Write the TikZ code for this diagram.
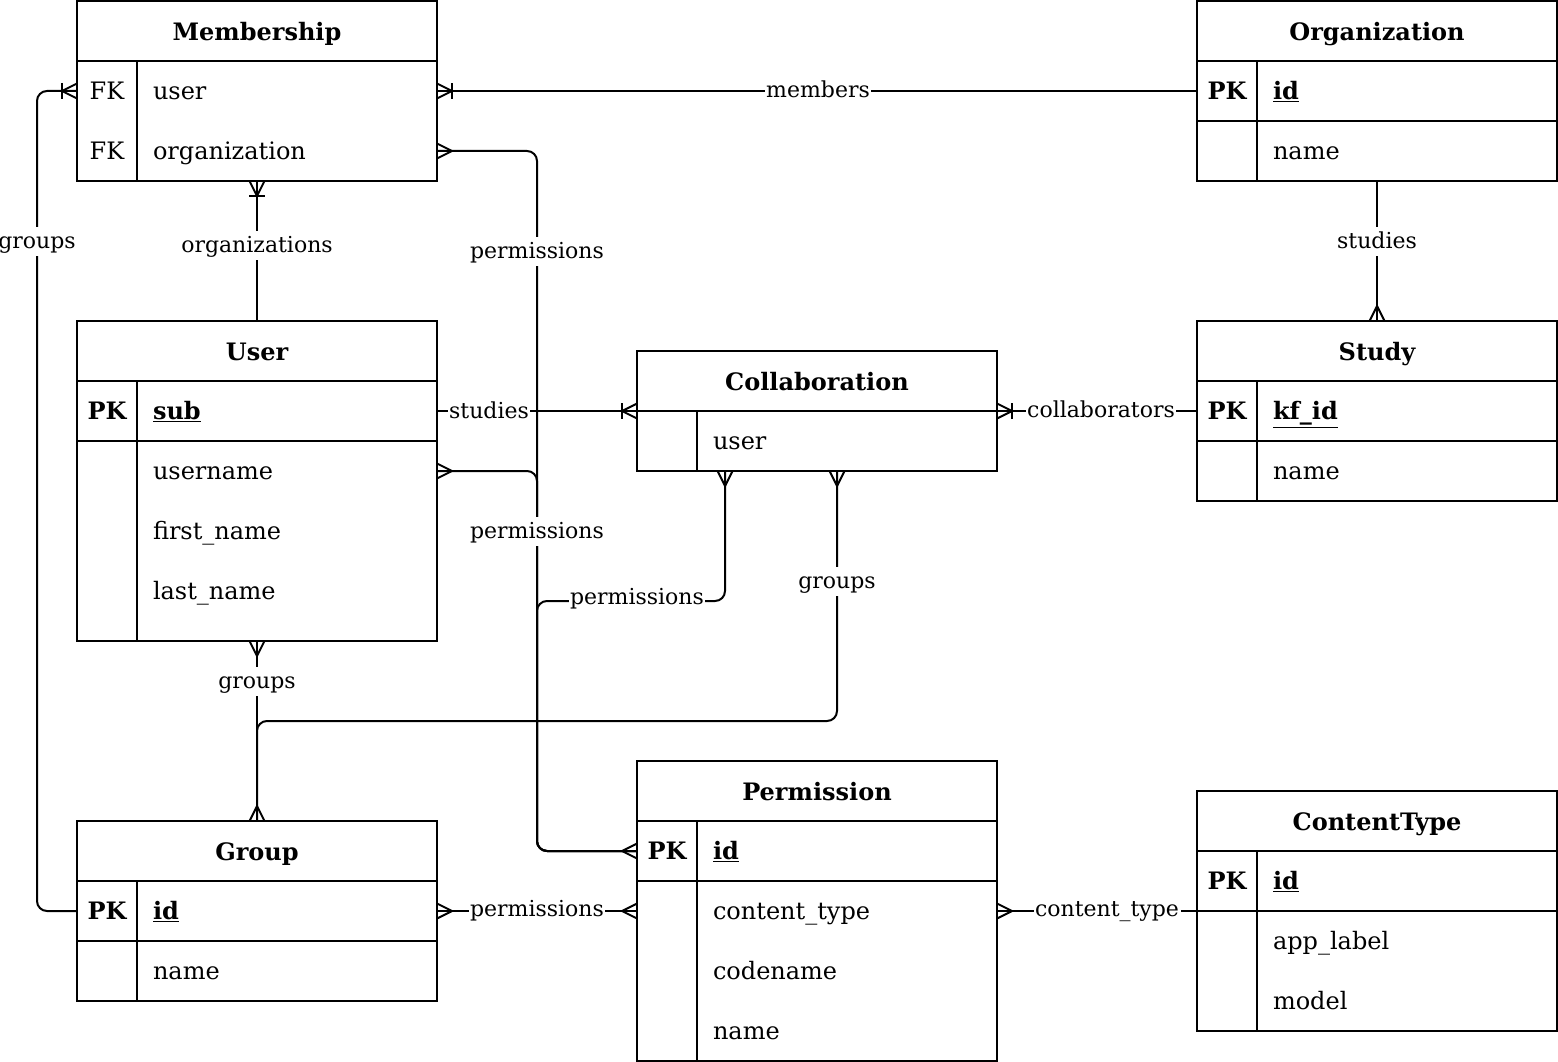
\documentclass[tikz,border=0pt]{standalone}
\usepackage{fontspec}
\setmainfont{DejaVu Serif}
\usetikzlibrary{calc}
\newcommand\erMany[2]{\draw[mk] ($(#1)+(#2+90:7.5)$) -- ($(#1)+(#2:15)$) -- ($(#1)+(#2-90:7.5)$);}
\newcommand\erOneMany[2]{\erMany{#1}{#2}\draw[mk] ($(#1)+(#2:15)+(#2+90:8)$) -- ($(#1)+(#2:15)+(#2-90:8)$);}
\begin{document}
\begin{tikzpicture}[x=1pt,y=-1pt, line width=2pt,
  tbl/.style={draw, fill=white, minimum width=360pt, inner sep=0pt, outer sep=0pt},
  ttl/.style={minimum width=360pt, minimum height=60pt, inner sep=0pt, outer sep=0pt},
  ttltext/.style={inner sep=0pt, text height=19.5pt, text depth=0pt, font=\fontsize{24pt}{28pt}\selectfont\bfseries},
  row/.style={minimum width=360pt, minimum height=60pt, inner sep=0pt, outer sep=0pt},
  keyt/.style={inner sep=0pt, text height=17.5pt, text depth=0pt, font=\fontsize{24pt}{28pt}\selectfont},
  fld/.style={inner sep=0pt, text height=17.5pt, text depth=0pt, anchor=west, font=\fontsize{24pt}{28pt}\selectfont},
  lbl/.style={fill=white, inner xsep=1.5pt, inner ysep=2pt, text height=20pt, text depth=5pt, font=\fontsize{22pt}{26pt}\selectfont},
  edge/.style={rounded corners=10pt},
  mk/.style={line join=miter}
]
\useasboundingbox (0,0) rectangle (1558,1062);

% ---------- Membership ----------
\node[tbl, minimum height=180pt] (mem) at (257,91) {};
\node[ttl] (memt) at (257,31) {};
\node[ttltext] (memtt) at (memt) {Membership};
\node[row] (memuser) at (257,91) {};
\node[row] (memorg) at (257,151) {};
\draw (memt.south west) -- (memt.south east);
\draw ([xshift=60pt]memuser.north west) -- ([xshift=60pt]mem.south west);
\node[keyt] (memk1) at ([xshift=30pt]memuser.west) {FK};
\node[fld] (memf1) at ([xshift=75pt]memuser.west) {user};
\node[keyt] (memk2) at ([xshift=30pt]memorg.west) {FK};
\node[fld] (memf2) at ([xshift=75pt]memorg.west) {organization};

% ---------- Organization ----------
\node[tbl, minimum height=180pt] (org) at (1377,91) {};
\node[ttl] (orgt) at (1377,31) {};
\node[ttltext] (orgtt) at (orgt) {Organization};
\node[row] (orgid) at (1377,91) {};
\node[row] (orgname) at (1377,151) {};
\draw (orgt.south west) -- (orgt.south east);
\draw (orgid.south west) -- (orgid.south east);
\draw ([xshift=60pt]orgid.north west) -- ([xshift=60pt]org.south west);
\node[keyt] (orgk1) at ([xshift=30pt]orgid.west) {\bfseries PK};
\node[fld] (orgf1) at ([xshift=75pt]orgid.west) {\bfseries\underline{id}};
\node[fld] (orgf2) at ([xshift=75pt]orgname.west) {name};

% ---------- User ----------
\node[tbl, minimum height=320pt] (user) at (257,481) {};
\node[ttl] (usert) at (257,351) {};
\node[ttltext] (usertt) at (usert) {User};
\node[row] (usersub) at (257,411) {};
\node[row] (userun) at (257,471) {};
\node[row] (userfn) at (257,531) {};
\node[row] (userln) at (257,591) {};
\draw (usert.south west) -- (usert.south east);
\draw (usersub.south west) -- (usersub.south east);
\draw ([xshift=60pt]usersub.north west) -- ([xshift=60pt]user.south west);
\node[keyt] (userk1) at ([xshift=30pt]usersub.west) {\bfseries PK};
\node[fld] (userf1) at ([xshift=75pt]usersub.west) {\bfseries\underline{sub}};
\node[fld] (userf2) at ([xshift=75pt]userun.west) {username};
\node[fld] (userf3) at ([xshift=75pt]userfn.west) {first\_name};
\node[fld] (userf4) at ([xshift=75pt]userln.west) {last\_name};

% ---------- Collaboration ----------
\node[tbl, minimum height=120pt] (coll) at (817,411) {};
\node[ttl] (collt) at (817,381) {};
\node[ttltext] (colltt) at (collt) {Collaboration};
\node[row] (colluser) at (817,441) {};
\draw (collt.south west) -- (collt.south east);
\draw ([xshift=60pt]colluser.north west) -- ([xshift=60pt]colluser.south west);
\node[fld] (collf1) at ([xshift=75pt]colluser.west) {user};
\coordinate (cu1) at ([xshift=-92pt]colluser.south);
\coordinate (cu2) at ([xshift=20pt]colluser.south);

% ---------- Study ----------
\node[tbl, minimum height=180pt] (study) at (1377,411) {};
\node[ttl] (studyt) at (1377,351) {};
\node[ttltext] (studytt) at (studyt) {Study};
\node[row] (studykf) at (1377,411) {};
\node[row] (studyname) at (1377,471) {};
\draw (studyt.south west) -- (studyt.south east);
\draw (studykf.south west) -- (studykf.south east);
\draw ([xshift=60pt]studykf.north west) -- ([xshift=60pt]study.south west);
\node[keyt] (studyk1) at ([xshift=30pt]studykf.west) {\bfseries PK};
\node[fld] (studyf1) at ([xshift=75pt]studykf.west) {\bfseries\underline{kf\_id}};
\node[fld] (studyf2) at ([xshift=75pt]studyname.west) {name};

% ---------- Group ----------
\node[tbl, minimum height=180pt] (grp) at (257,911) {};
\node[ttl] (grpt) at (257,851) {};
\node[ttltext] (grptt) at (grpt) {Group};
\node[row] (grpid) at (257,911) {};
\node[row] (grpname) at (257,971) {};
\draw (grpt.south west) -- (grpt.south east);
\draw (grpid.south west) -- (grpid.south east);
\draw ([xshift=60pt]grpid.north west) -- ([xshift=60pt]grp.south west);
\node[keyt] (grpk1) at ([xshift=30pt]grpid.west) {\bfseries PK};
\node[fld] (grpf1) at ([xshift=75pt]grpid.west) {\bfseries\underline{id}};
\node[fld] (grpf2) at ([xshift=75pt]grpname.west) {name};

% ---------- Permission ----------
\node[tbl, minimum height=300pt] (perm) at (817,911) {};
\node[ttl] (permt) at (817,791) {};
\node[ttltext] (permtt) at (permt) {Permission};
\node[row] (permid) at (817,851) {};
\node[row] (permct) at (817,911) {};
\node[row] (permcn) at (817,971) {};
\node[row] (permname) at (817,1031) {};
\draw (permt.south west) -- (permt.south east);
\draw (permid.south west) -- (permid.south east);
\draw ([xshift=60pt]permid.north west) -- ([xshift=60pt]perm.south west);
\node[keyt] (permk1) at ([xshift=30pt]permid.west) {\bfseries PK};
\node[fld] (permf1) at ([xshift=75pt]permid.west) {\bfseries\underline{id}};
\node[fld] (permf2) at ([xshift=75pt]permct.west) {content\_type};
\node[fld] (permf3) at ([xshift=75pt]permcn.west) {codename};
\node[fld] (permf4) at ([xshift=75pt]permname.west) {name};

% ---------- ContentType ----------
\node[tbl, minimum height=240pt] (ct) at (1377,911) {};
\node[ttl] (ctt) at (1377,821) {};
\node[ttltext] (cttt) at (ctt) {ContentType};
\node[row] (ctid) at (1377,881) {};
\node[row] (ctapp) at (1377,941) {};
\node[row] (ctmodel) at (1377,1001) {};
\draw (ctt.south west) -- (ctt.south east);
\draw (ctid.south west) -- (ctid.south east);
\draw ([xshift=60pt]ctid.north west) -- ([xshift=60pt]ct.south west);
\node[keyt] (ctk1) at ([xshift=30pt]ctid.west) {\bfseries PK};
\node[fld] (ctf1) at ([xshift=75pt]ctid.west) {\bfseries\underline{id}};
\node[fld] (ctf2) at ([xshift=75pt]ctapp.west) {app\_label};
\node[fld] (ctf3) at ([xshift=75pt]ctmodel.west) {model};

% ---------- connectors ----------
\draw[edge] (orgid.west) -- (memuser.east);
\draw[edge] (memorg.east) -- ++(100,0) |- (permid.west);
\draw[edge] (user.north) -- (mem.south);
\draw[edge] (grpid.west) -- ++(-40,0) |- (memuser.west);
\draw[edge] (usersub.east) -- (coll.west);
\draw[edge] (studykf.west) -- (coll.east);
\draw[edge] (userun.east) -- ++(100,0) |- (permid.west);
\draw[edge] (cu1) -- ++(0,130) -- ++(-188,0) |- (permid.west);
\draw[edge] (cu2) -- ++(0,250) -| (grp.north);
\draw[edge] (user.south) -- (grp.north);
\draw[edge] (grpid.east) -- (permct.west);
\draw[edge] (ct.west) -- (permct.east);
\draw[edge] (org.south) -- (study.north);

% ---------- markers ----------
\erOneMany{memuser.east}{0}
\erMany{memorg.east}{0}
\erOneMany{mem.south}{90}
\erOneMany{memuser.west}{180}
\erOneMany{coll.west}{180}
\erOneMany{coll.east}{0}
\erMany{userun.east}{0}
\erMany{permid.west}{180}
\erMany{cu1}{90}
\erMany{cu2}{90}
\erMany{grp.north}{270}
\erMany{user.south}{90}
\erMany{grpid.east}{0}
\erMany{permct.west}{180}
\erMany{permct.east}{0}
\erMany{study.north}{270}

% ---------- labels ----------
\node[lbl] (l1) at (818,90) {members};
\node[lbl] (l2) at (537,251) {permissions};
\node[lbl] (l3) at (257,245) {organizations};
\node[lbl] (l4) at (37,241) {groups};
\node[lbl] (l5) at (489,411) {studies};
\node[lbl] (l6) at (1101,410) {collaborators};
\node[lbl] (l7) at (537,531) {permissions};
\node[lbl] (l8) at (637,597) {permissions};
\node[lbl] (l9) at (837,581) {groups};
\node[lbl] (l10) at (257,681) {groups};
\node[lbl] (l11) at (537,909) {permissions};
\node[lbl] (l12) at (1107,909) {content\_type};
\node[lbl] (l13) at (1377,241) {studies};
\end{tikzpicture}
\end{document}
